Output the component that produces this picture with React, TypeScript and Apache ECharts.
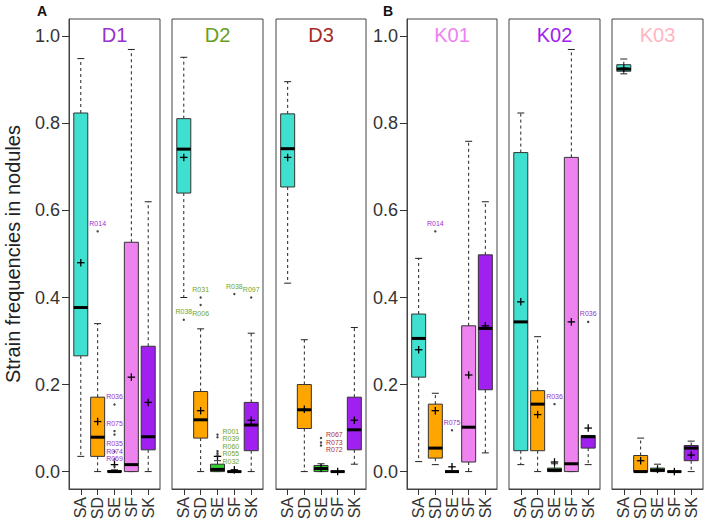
import React, { useEffect, useRef } from "react";
import * as echarts from "echarts";

const FONT = "'Liberation Sans', Arial, Helvetica, sans-serif";

// ---------- data ----------
const categories = ["SA", "SD", "SE", "SF", "SK"];
const panelNames = ["D1", "D2", "D3", "K01", "K02", "K03"];
const yTicks = [0, 0.2, 0.4, 0.6, 0.8, 1.0];

// box stats per category: [lowWhisker, q1, median, q3, highWhisker]
const d1Stats = [
  [0.035, 0.266, 0.377, 0.824, 0.949],
  [0.0, 0.035, 0.079, 0.171, 0.34],
  [0.0, 0.0, 0.0, 0.002, 0.004],
  [0.0, 0.0, 0.016, 0.527, 0.97],
  [0.0, 0.05, 0.08, 0.288, 0.62],
];
const d1Means = [0.48, 0.115, 0.016, 0.217, 0.159];
const d1Outliers = [
  { cat: 1, v: 0.552, id: "R014", pos: "top" },
  { cat: 2, v: 0.154, id: "R036", pos: "top" },
  { cat: 2, v: 0.093, id: "R075", pos: "top" },
  { cat: 2, v: 0.085, id: "", pos: "top" },
  { cat: 2, v: 0.046, id: "R035", pos: "top" },
  { cat: 2, v: 0.028, id: "R074", pos: "top" },
  { cat: 2, v: 0.012, id: "R069", pos: "top" },
];

const d2Stats = [
  [0.4, 0.64, 0.741, 0.811, 0.952],
  [0.0, 0.077, 0.119, 0.184, 0.328],
  [0.0, 0.0, 0.005, 0.017, 0.025],
  [0.0, 0.0, 0.0, 0.0, 0.003],
  [0.0, 0.048, 0.107, 0.159, 0.318],
];
const d2Means = [0.722, 0.14, 0.035, 0.004, 0.118];
const d2Outliers = [
  { cat: 0, v: 0.349, id: "R038", pos: "top" },
  { cat: 1, v: 0.4, id: "R031", pos: "top" },
  { cat: 1, v: 0.383, id: "R006", pos: "bottom" },
  { cat: 2, v: 0.085, id: "R001", pos: "right" },
  { cat: 2, v: 0.079, id: "R039", pos: "right" },
  { cat: 2, v: 0.047, id: "R060", pos: "right" },
  { cat: 2, v: 0.042, id: "R055", pos: "right" },
  { cat: 2, v: 0.037, id: "R032", pos: "right" },
  { cat: 3, v: 0.408, id: "R038", pos: "top" },
  { cat: 4, v: 0.4, id: "R097", pos: "top" },
];

const d3Stats = [
  [0.433, 0.654, 0.742, 0.822, 0.896],
  [0.0, 0.099, 0.142, 0.2, 0.303],
  [0.0, 0.0, 0.007, 0.014, 0.018],
  [0.0, 0.0, 0.0, 0.0, 0.0],
  [0.017, 0.05, 0.096, 0.171, 0.331],
];
const d3Means = [0.722, 0.143, 0.008, 0.0, 0.118];
const d3Outliers = [
  { cat: 2, v: 0.077, id: "R067", pos: "right" },
  { cat: 2, v: 0.067, id: "R073", pos: "right" },
  { cat: 2, v: 0.06, id: "R072", pos: "right" },
];

const k01Stats = [
  [0.023, 0.217, 0.306, 0.362, 0.49],
  [0.016, 0.031, 0.054, 0.155, 0.18],
  [0.0, 0.0, 0.0, 0.0, 0.0],
  [0.0, 0.022, 0.102, 0.335, 0.759],
  [0.043, 0.188, 0.329, 0.498, 0.62],
];
const k01Means = [0.28, 0.14, 0.011, 0.222, 0.335];
const k01Outliers = [
  { cat: 1, v: 0.552, id: "R014", pos: "top" },
  { cat: 2, v: 0.095, id: "R075", pos: "top" },
];

const k02Stats = [
  [0.016, 0.048, 0.344, 0.733, 0.824],
  [0.0, 0.048, 0.155, 0.186, 0.31],
  [0.0, 0.0, 0.003, 0.008, 0.018],
  [0.0, 0.0, 0.018, 0.722, 0.97],
  [0.016, 0.054, 0.08, 0.083, 0.083],
];
const k02Means = [0.39, 0.131, 0.022, 0.344, 0.1];
const k02Outliers = [
  { cat: 2, v: 0.155, id: "R036", pos: "top" },
  { cat: 4, v: 0.344, id: "R036", pos: "top" },
];

const k03Stats = [
  [0.914, 0.92, 0.925, 0.935, 0.948],
  [0.0, 0.0, 0.0, 0.037, 0.077],
  [0.0, 0.0, 0.003, 0.008, 0.017],
  [0.0, 0.0, 0.0, 0.0, 0.0],
  [0.0, 0.025, 0.054, 0.06, 0.07],
];
const k03Means = [0.927, 0.025, 0.005, 0.0, 0.038];
const k03Outliers: { cat: number; v: number; id: string; pos: string }[] = [];

const allStats = [d1Stats, d2Stats, d3Stats, k01Stats, k02Stats, k03Stats];
const allMeans = [d1Means, d2Means, d3Means, k01Means, k02Means, k03Means];
const allOutliers = [d1Outliers, d2Outliers, d3Outliers, k01Outliers, k02Outliers, k03Outliers];

// ---------- styles / layout ----------
const catColors = ["#40E0D0", "#FFA500", "#32CD32", "#EE82EE", "#A020F0"];
const titleColors = ["#9932CC", "#66A01E", "#A52A2A", "#EE82EE", "#A020F0", "#FFB6C1"];
const labelColors = ["#9932CC", "#6FA52A", "#B03030", "#9932CC", "#9932CC", "#9932CC"];
const panelLeft = [69, 172, 276, 407, 509, 612];
const panelWidth = [91, 91, 90, 90, 91, 91];
const PANEL_TOP = 19;
const PANEL_H = 470;
const Y_MIN = -0.04;
const Y_MAX = 1.04;
const BOX_W = 14;
const CAP_W = 7;
const PLUS = 7.5;
const LABEL_GAP = 7.5;
const LABEL_SIZE = 7;

type Outlier = { cat: number; v: number; id: string; pos: string };

function layoutLabels(list: Outlier[], api: any) {
  const items = list.map((o, i) => {
    const [px, py] = api.coord([o.cat, o.v]);
    let lx = px, d = py, align = "center";
    if (o.pos === "top") d = py - 8;
    else if (o.pos === "bottom") d = py + 9;
    else if (o.pos === "right") { lx = px + 5; align = "left"; }
    return { i, lx, d, y: d, align, key: o.pos + "-" + o.cat, has: !!o.id };
  });
  const groups: Record<string, any[]> = {};
  items.filter((it) => it.has).forEach((it) => {
    (groups[it.key] = groups[it.key] || []).push(it);
  });
  Object.values(groups).forEach((arr) => {
    arr.sort((a, b) => a.d - b.d);
    const clusters = arr.map((a) => ({ members: [a] }));
    const span = (c: any) => {
      const n = c.members.length;
      const mean = c.members.reduce((s: number, m: any) => s + m.d, 0) / n;
      return { start: mean - ((n - 1) * LABEL_GAP) / 2, end: mean + ((n - 1) * LABEL_GAP) / 2 };
    };
    let merged = true;
    while (merged) {
      merged = false;
      for (let k = 0; k < clusters.length - 1; k++) {
        const a = span(clusters[k]);
        const b = span(clusters[k + 1]);
        if (b.start - a.end < LABEL_GAP) {
          clusters[k].members.push(...clusters[k + 1].members);
          clusters.splice(k + 1, 1);
          merged = true;
          break;
        }
      }
    }
    clusters.forEach((c) => {
      const s = span(c);
      c.members.forEach((m: any, j: number) => (m.y = s.start + j * LABEL_GAP));
    });
  });
  return items;
}

function buildOption() {
  const grid = panelNames.map((_, i) => ({
    left: panelLeft[i],
    top: PANEL_TOP,
    width: panelWidth[i],
    height: PANEL_H,
    show: true,
    borderColor: "#444",
    borderWidth: 1,
    backgroundColor: "transparent",
  }));

  const xAxis = panelNames.map((_, i) => ({
    type: "value",
    gridIndex: i,
    position: "bottom",
    min: -0.7,
    max: 4.7,
    splitLine: { show: false },
    axisLine: { show: true, onZero: false, lineStyle: { color: "#444", width: 1 } },
    axisTick: {
      show: true,
      customValues: [0, 1, 2, 3, 4],
      length: 6,
      lineStyle: { color: "#333", width: 1 },
    },
    axisLabel: {
      show: true,
      customValues: [0, 1, 2, 3, 4],
      formatter: (v: number) => categories[Math.round(v)] ?? "",
      rotate: 90,
      fontSize: 16,
      color: "#333",
      margin: 8,
      fontFamily: FONT,
    },
  }));

  const yAxis = panelNames.map((_, i) => {
    const shown = i === 0 || i === 3;
    return {
      type: "value",
      gridIndex: i,
      position: "left",
      min: Y_MIN,
      max: Y_MAX,
      splitLine: { show: false },
      axisLine: { show: shown, onZero: false, lineStyle: { color: "#444", width: 1 } },
      axisTick: {
        show: shown,
        customValues: yTicks,
        length: 7,
        lineStyle: { color: "#333", width: 1 },
      },
      axisLabel: {
        show: shown,
        customValues: yTicks,
        formatter: (v: number) => v.toFixed(1),
        fontSize: 18,
        color: "#333",
        margin: 9,
        fontFamily: FONT,
      },
    };
  });

  const series: any[] = [];
  panelNames.forEach((_, p) => {
    const stats = allStats[p];
    const means = allMeans[p];
    series.push({
      type: "custom",
      xAxisIndex: p,
      yAxisIndex: p,
      data: stats.map((s, j) => [j, s[0], s[1], s[2], s[3], s[4], means[j]]),
      encode: { x: 0, y: [1, 2, 3, 4, 5, 6] },
      renderItem: (params: any, api: any) => {
        const x = api.value(0);
        const idx = Math.round(x);
        const [cx, yLow] = api.coord([x, api.value(1)]);
        const yQ1 = api.coord([x, api.value(2)])[1];
        const yMed = api.coord([x, api.value(3)])[1];
        const yQ3 = api.coord([x, api.value(4)])[1];
        const yHigh = api.coord([x, api.value(5)])[1];
        const yMean = api.coord([x, api.value(6)])[1];
        const children: any[] = [];
        const dashed = { stroke: "#222", lineWidth: 1, lineDash: [3, 3] };
        const solid = { stroke: "#222", lineWidth: 1 };
        if (yHigh < yQ3 - 0.5)
          children.push({ type: "line", shape: { x1: cx, y1: yQ3, x2: cx, y2: yHigh }, style: dashed });
        if (yLow > yQ1 + 0.5)
          children.push({ type: "line", shape: { x1: cx, y1: yQ1, x2: cx, y2: yLow }, style: dashed });
        children.push({ type: "line", shape: { x1: cx - CAP_W / 2, y1: yHigh, x2: cx + CAP_W / 2, y2: yHigh }, style: solid });
        children.push({ type: "line", shape: { x1: cx - CAP_W / 2, y1: yLow, x2: cx + CAP_W / 2, y2: yLow }, style: solid });
        children.push({
          type: "rect",
          shape: { x: cx - BOX_W / 2, y: yQ3, width: BOX_W, height: Math.max(yQ1 - yQ3, 0) },
          style: { fill: catColors[idx], stroke: "#333", lineWidth: 1 },
        });
        children.push({
          type: "line",
          shape: { x1: cx - BOX_W / 2, y1: yMed, x2: cx + BOX_W / 2, y2: yMed },
          style: { stroke: "#000", lineWidth: 3 },
        });
        children.push({
          type: "line",
          shape: { x1: cx - PLUS / 2, y1: yMean, x2: cx + PLUS / 2, y2: yMean },
          style: { stroke: "#000", lineWidth: 1.3 },
        });
        children.push({
          type: "line",
          shape: { x1: cx, y1: yMean - PLUS / 2, x2: cx, y2: yMean + PLUS / 2 },
          style: { stroke: "#000", lineWidth: 1.3 },
        });
        return { type: "group", children };
      },
      silent: true,
      z: 2,
    });

    const outs = allOutliers[p] as Outlier[];
    if (outs.length) {
      series.push({
        type: "custom",
        xAxisIndex: p,
        yAxisIndex: p,
        data: outs.map((o) => [o.cat, o.v]),
        encode: { x: 0, y: 1 },
        renderItem: (params: any, api: any) => {
          const k = params.dataIndex;
          const o = outs[k];
          const lay = layoutLabels(outs, api)[k];
          const [px, py] = api.coord([api.value(0), api.value(1)]);
          const children: any[] = [
            { type: "circle", shape: { cx: px, cy: py, r: 1.2 }, style: { fill: "#444" } },
          ];
          if (o.id) {
            children.push({
              type: "text",
              x: lay.lx,
              y: lay.y,
              style: {
                text: o.id,
                fill: labelColors[p],
                fontSize: LABEL_SIZE,
                fontFamily: FONT,
                align: lay.align,
                textAlign: lay.align,
                verticalAlign: "middle",
                textVerticalAlign: "middle",
              },
            });
          }
          return { type: "group", children };
        },
        silent: true,
        z: 3,
      });
    }
  });

  const graphic: any[] = panelNames.map((name, i) => ({
    type: "text",
    x: panelLeft[i] + panelWidth[i] / 2,
    y: 35,
    style: {
      text: name,
      fill: titleColors[i],
      fontSize: 20,
      fontFamily: FONT,
      align: "center",
      textAlign: "center",
      verticalAlign: "middle",
      textVerticalAlign: "middle",
    },
  }));
  graphic.push(
    {
      type: "text",
      x: 42,
      y: 11,
      style: { text: "A", fill: "#111", fontSize: 14, fontWeight: "bold", fontFamily: FONT, align: "center", textAlign: "center", verticalAlign: "middle", textVerticalAlign: "middle" },
    },
    {
      type: "text",
      x: 388,
      y: 11,
      style: { text: "B", fill: "#111", fontSize: 14, fontWeight: "bold", fontFamily: FONT, align: "center", textAlign: "center", verticalAlign: "middle", textVerticalAlign: "middle" },
    },
    {
      type: "text",
      x: 13,
      y: 254,
      rotation: Math.PI / 2,
      style: { text: "Strain frequencies in nodules", fill: "#222", fontSize: 20, fontFamily: FONT, align: "center", textAlign: "center", verticalAlign: "middle", textVerticalAlign: "middle" },
    }
  );

  return {
    animation: false,
    backgroundColor: "#fff",
    textStyle: { fontFamily: FONT },
    grid,
    xAxis,
    yAxis,
    series,
    graphic,
  };
}

export default function App() {
  const ref = useRef<HTMLDivElement>(null);
  useEffect(() => {
    if (!ref.current) return;
    const chart = echarts.init(ref.current, null, { renderer: "svg" });
    chart.setOption(buildOption() as any);
    return () => chart.dispose();
  }, []);
  return (
    <div
      ref={ref}
      style={{ position: "fixed", left: 0, top: 0, width: 708, height: 527 }}
    />
  );
}
